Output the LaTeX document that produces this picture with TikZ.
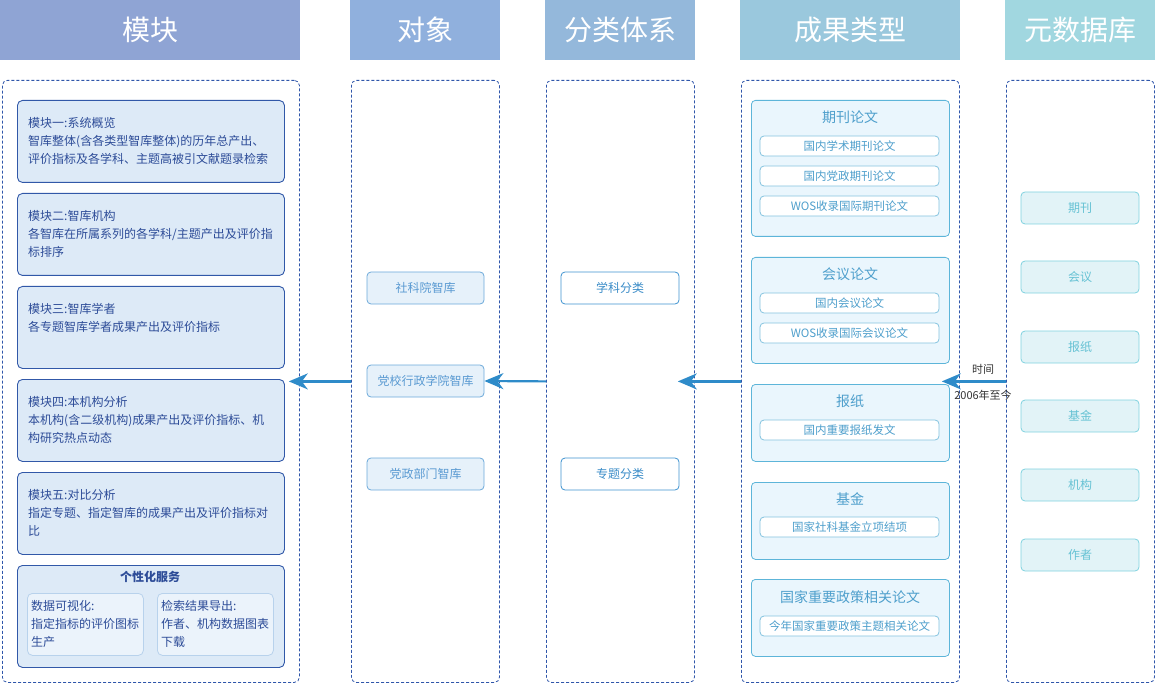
\documentclass[tikz,border=0pt]{standalone}
\usepackage{fontspec}
\setmainfont{Noto Sans CJK SC}
\usetikzlibrary{arrows.meta}
\definecolor{hA}{HTML}{8FA4D4}
\definecolor{hB}{HTML}{90B0DD}
\definecolor{hC}{HTML}{94B8DB}
\definecolor{hD}{HTML}{9AC8DD}
\definecolor{hE}{HTML}{A1D7E0}
\definecolor{dashc}{HTML}{2F56AA}
\definecolor{modfill}{HTML}{DDEAF7}
\definecolor{moddraw}{HTML}{3158A8}
\definecolor{modtext}{HTML}{2D4C98}
\definecolor{subfill}{HTML}{EBF3FB}
\definecolor{subdraw}{HTML}{B8D2EC}
\definecolor{objfill}{HTML}{E6F1FA}
\definecolor{objdraw}{HTML}{6CA9DA}
\definecolor{objtext}{HTML}{5A9AD2}
\definecolor{clsdraw}{HTML}{3F93D0}
\definecolor{clstext}{HTML}{3A8CC8}
\definecolor{resfill}{HTML}{EAF6FD}
\definecolor{resdraw}{HTML}{5DB5D9}
\definecolor{resin}{HTML}{84C3DF}
\definecolor{restext}{HTML}{4E9FCC}
\definecolor{metfill}{HTML}{E2F3F7}
\definecolor{metdraw}{HTML}{80D2DF}
\definecolor{mettext}{HTML}{66C2D4}
\definecolor{arrc}{HTML}{2E8BC9}
\definecolor{lbl}{HTML}{333333}
\tikzset{
  hdr/.style={fill=#1, draw=none, minimum height=60, text=white, font=\fontsize{28}{30}\selectfont, inner sep=0},
  panel/.style={draw=dashc, dash pattern=on 3pt off 2pt, line width=0.8pt, rounded corners=5, anchor=north west, minimum height=602, inner sep=0},
  modbox/.style={draw=moddraw, fill=modfill, line width=0.9pt, rounded corners=5, anchor=north west, minimum width=267, minimum height=82, inner sep=0},
  modtxt/.style={text=modtext, font=\fontsize{12}{18}\selectfont, align=left, anchor=north west, inner sep=0},
  subbox/.style={draw=subdraw, fill=subfill, line width=0.8pt, rounded corners=5, anchor=north west, minimum width=116, minimum height=62, inner sep=0},
  objbox/.style={draw=objdraw, fill=objfill, line width=0.8pt, rounded corners=4, minimum width=117, minimum height=32, text=objtext, font=\fontsize{12}{14}\selectfont, inner sep=0},
  clsbox/.style={draw=clsdraw, fill=white, line width=0.8pt, rounded corners=4, minimum width=118, minimum height=32, text=clstext, font=\fontsize{12}{14}\selectfont, inner sep=0},
  resbox/.style={draw=resdraw, fill=resfill, line width=0.8pt, rounded corners=4, anchor=north west, minimum width=198, inner sep=0},
  restitle/.style={text=restext, font=\fontsize{14}{16}\selectfont, inner sep=0},
  resinbox/.style={draw=resin, fill=white, line width=0.8pt, rounded corners=4, minimum width=179, minimum height=20, text=restext, font=\fontsize{11.5}{13}\selectfont, inner sep=0},
  metbox/.style={draw=metdraw, fill=metfill, line width=0.8pt, rounded corners=4, minimum width=118, minimum height=32, text=mettext, font=\fontsize{12}{14}\selectfont, inner sep=0},
  arr/.style={draw=arrc, line width=2.2pt, -{Stealth[length=19pt,width=16pt,inset=6pt]}},
  lab/.style={text=lbl, font=\fontsize{11}{13}\selectfont, inner sep=0}
}
\begin{document}
\begin{tikzpicture}[x=1pt,y=-1pt]
\useasboundingbox (0,0) rectangle (1155,684);
% headers
\node[hdr=hA, minimum width=300] (h1) at (150,30) {模块};
\node[hdr=hB, minimum width=150] (h2) at (425,30) {对象};
\node[hdr=hC, minimum width=150] (h3) at (620,30) {分类体系};
\node[hdr=hD, minimum width=220] (h4) at (850,30) {成果类型};
\node[hdr=hE, minimum width=150] (h5) at (1080,30) {元数据库};
% panels
\node[panel, minimum width=297] (p1) at (2,80) {};
\node[panel, minimum width=148] (p2) at (351,80) {};
\node[panel, minimum width=148] (p3) at (546,80) {};
\node[panel, minimum width=218] (p4) at (741,80) {};
\node[panel, minimum width=148] (p5) at (1006,80) {};
% modules
\node[modbox] (m1) at (17,100) {};
\node[modtxt] (t1) at (28,117) {模块一:系统概览\\智库整体(含各类型智库整体)的历年总产出、\\评价指标及各学科、主题高被引文献题录检索};
\node[modbox] (m2) at (17,193) {};
\node[modtxt] (t2) at (28,210) {模块二:智库机构\\各智库在所属系列的各学科/主题产出及评价指\\标排序};
\node[modbox] (m3) at (17,286) {};
\node[modtxt] (t3) at (28,303) {模块三:智库学者\\各专题智库学者成果产出及评价指标};
\node[modbox] (m4) at (17,379) {};
\node[modtxt] (t4) at (28,396) {模块四:本机构分析\\本机构(含二级机构)成果产出及评价指标、机\\构研究热点动态};
\node[modbox] (m5) at (17,472) {};
\node[modtxt] (t5) at (28,489) {模块五:对比分析\\指定专题、指定智库的成果产出及评价指标对\\比};
\node[modbox, minimum height=102] (m6) at (17,565) {};
\node[text=modtext, font=\fontsize{12}{14}\selectfont\bfseries, inner sep=0] (t6) at (150,577) {个性化服务};
\node[subbox] (s1) at (27,593) {};
\node[modtxt] (st1) at (31,600) {数据可视化:\\指定指标的评价图标\\生产};
\node[subbox] (s2) at (157,593) {};
\node[modtxt] (st2) at (161,600) {检索结果导出:\\作者、机构数据图表\\下载};
% objects
\node[objbox] (o1) at (425.5,288) {社科院智库};
\node[objbox] (o2) at (425.5,381) {党校行政学院智库};
\node[objbox] (o3) at (425.5,474) {党政部门智库};
% classification
\node[clsbox] (c1) at (620,288) {学科分类};
\node[clsbox] (c2) at (620,474) {专题分类};
% result types
\node[resbox, minimum height=136] (r1) at (751,100) {};
\node[restitle] (r1t) at (850,117) {期刊论文};
\node[resinbox] (r1a) at (849.5,146) {国内学术期刊论文};
\node[resinbox] (r1b) at (849.5,176) {国内党政期刊论文};
\node[resinbox] (r1c) at (849.5,206) {WOS收录国际期刊论文};
\node[resbox, minimum height=106] (r2) at (751,257) {};
\node[restitle] (r2t) at (850,274) {会议论文};
\node[resinbox] (r2a) at (849.5,303) {国内会议论文};
\node[resinbox] (r2b) at (849.5,333) {WOS收录国际会议论文};
\node[resbox, minimum height=77] (r3) at (751,384) {};
\node[restitle] (r3t) at (850,401) {报纸};
\node[resinbox] (r3a) at (849.5,430) {国内重要报纸发文};
\node[resbox, minimum height=77] (r4) at (751,482) {};
\node[restitle] (r4t) at (850,499) {基金};
\node[resinbox] (r4a) at (849.5,527) {国家社科基金立项结项};
\node[resbox, minimum height=77] (r5) at (751,579) {};
\node[restitle] (r5t) at (850,597) {国家重要政策相关论文};
\node[resinbox] (r5a) at (849.5,626) {今年国家重要政策主题相关论文};
% metadata
\node[metbox] (d1) at (1080,208) {期刊};
\node[metbox] (d2) at (1080,277) {会议};
\node[metbox] (d3) at (1080,347) {报纸};
\node[metbox] (d4) at (1080,416) {基金};
\node[metbox] (d5) at (1080,485) {机构};
\node[metbox] (d6) at (1080,555) {作者};
% arrows
\draw[arr] (p2.west) -- ([xshift=-11pt]p1.east);
\draw[arr] (p3.west) -- (o2.east);
\draw[arr] (p4.west) -- ([xshift=-17pt]p3.east);
\draw[arr] (p5.west) -- ([xshift=-18pt]p4.east);
\node[lab] (l1) at (983,369) {时间};
\node[lab] (l2) at (983,395) {2006年至今};
\end{tikzpicture}
\end{document}
